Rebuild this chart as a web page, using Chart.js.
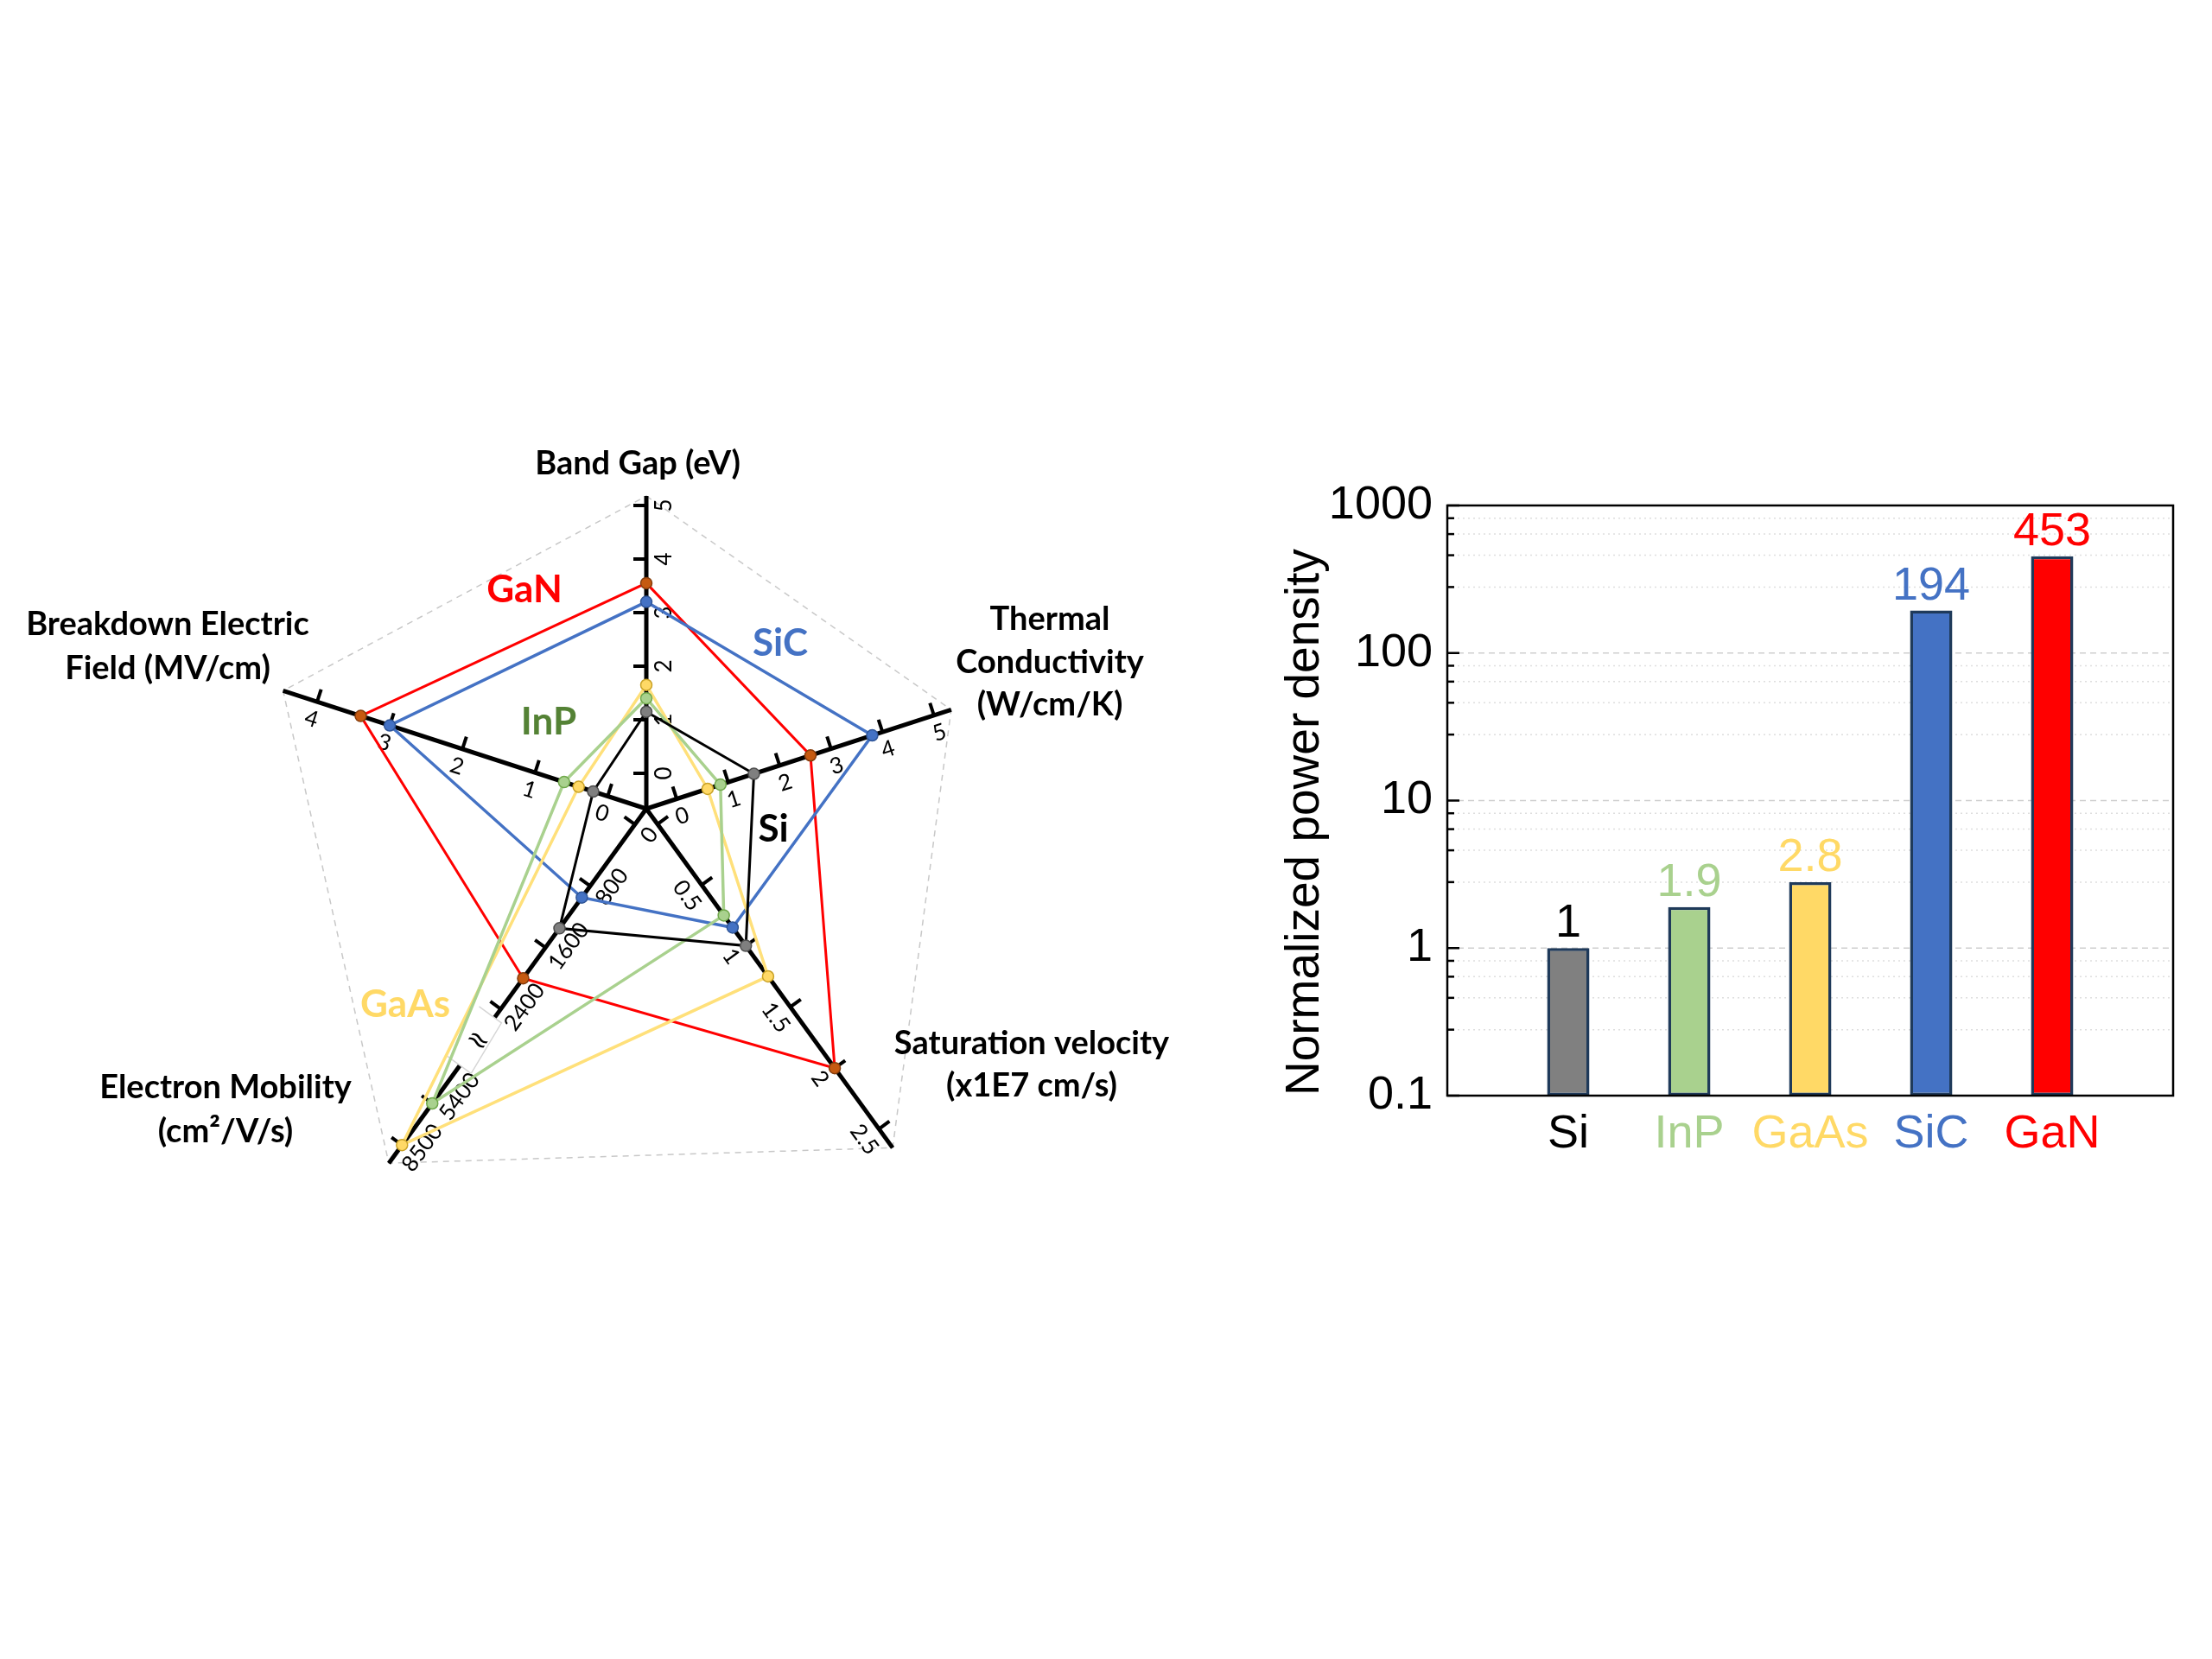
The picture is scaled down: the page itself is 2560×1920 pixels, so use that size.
<!DOCTYPE html>
<html>
<head>
<meta charset="utf-8">
<title>Si / InP / GaAs / SiC / GaN</title>
<script src="https://cdn.jsdelivr.net/npm/chart.js@4.4.1/dist/chart.umd.min.js"></script>
<style>
  html, body { margin: 0; padding: 0; background: #fff; }
  body { width: 2560px; height: 1920px; position: relative; overflow: hidden; }
  #radarBox { position: absolute; left: 0px; top: 186px; width: 1496px; height: 1500px; }
  #barBox { position: absolute; left: 1450px; top: 520px; width: 1090px; height: 860px; }
</style>
</head>
<body>
<div id="radarBox"><canvas id="radar"></canvas></div>
<div id="barBox"><canvas id="bars"></canvas></div>
<script>
'use strict';

// materials, same order in both charts
const materials = ['Si', 'InP', 'GaAs', 'SiC', 'GaN'];

// radar axes, clockwise from the top
const axisNames = [
  ['Band Gap (eV)'],
  ['Thermal', 'Conductivity', '(W/cm/K)'],
  ['Saturation velocity', '(x1E7 cm/s)'],
  ['Electron Mobility', '(cm²/V/s)'],
  ['Breakdown Electric', 'Field (MV/cm)']
];
const bandGapTicks = [0, 1, 2, 3, 4, 5];
const thermalTicks = [0, 1, 2, 3, 4, 5];
const satVelocityTicks = [0, 0.5, 1, 1.5, 2, 2.5];
const mobilityTicks = [0, 800, 1600, 2400, 5400, 8500];
const breakdownTicks = [0, 1, 2, 3, 4];

// band gap, thermal cond., sat. velocity, mobility, breakdown field
const siValues = [1.15, 1.5, 1.0, 1350, 0.2];
const inpValues = [1.4, 0.85, 0.75, 5400, 0.6];
const gaasValues = [1.65, 0.6, 1.25, 8500, 0.4];
const sicValues = [3.2, 3.8, 0.85, 950, 3.0];
const ganValues = [3.55, 2.6, 2.0, 2000, 3.4];

// bar chart
const powerDensity = [1, 1.9, 2.8, 194, 453];
const powerLabels = ['1', '1.9', '2.8', '194', '453'];
const powerTicks = [0.1, 1, 10, 100, 1000];


// ---------- radar ----------
// every axis has its own range, so each one gets its own mapping onto the
// radial scale (r goes 0..550). mobility axis is broken between 2400 and 5400
const axisLayout = [
  { ticks: bandGapTicks, at: [41, 103, 165, 227, 289, 351], end: 362 },
  { ticks: thermalTicks, at: [37, 99.6, 162.2, 224.8, 287.4, 350], end: 371 },
  { ticks: satVelocityTicks, at: [22, 109, 196, 283.5, 371, 458], end: 485, noZero: true },
  { ticks: mobilityTicks, at: [22.5, 110.5, 198.5, 286.5, 421.5, 481], end: 507, gap: [299, 367],
    shift: [0, -14, -17, -18, -25, -11] },
  { ticks: breakdownTicks, at: [47, 135.4, 223.8, 312.2, 400.6], end: 442 }
];

function toR (axis, v) {
  const t = axis.ticks, a = axis.at;
  let k = 0;
  while (k < t.length - 2 && v > t[k + 1]) k++;
  return a[k] + (v - t[k]) * (a[k + 1] - a[k]) / (t[k + 1] - t[k]);
}

const radarSeries = [siValues, inpValues, gaasValues, sicValues, ganValues];
const lineColors = ['#000000', '#A9D18E', '#FFE07A', '#4472C4', '#FF0000'];
const pointFills = ['#7F7F7F', '#A9D18E', '#FFD966', '#4472C4', '#C55A11'];
const pointEdges = ['#4D4D4D', '#6FA84A', '#C9A227', '#2F5597', '#843C0C'];
const lineWidths = [3, 3.5, 3.5, 3.5, 3];

const titleFont = 'bold 38px Lato, "Open Sans", sans-serif';
const tickFont = '26px Lato, "Open Sans", sans-serif';

// series names written inside the radar (offsets from the centre)
const seriesTags = [
  { text: 'Si', color: '#000000', dx: 147, dy: 24 },
  { text: 'InP', color: '#548235', dx: -113, dy: -100 },
  { text: 'GaAs', color: '#FFD966', dx: -279, dy: 227 },
  { text: 'SiC', color: '#4472C4', dx: 155, dy: -191 },
  { text: 'GaN', color: '#FF0000', dx: -141, dy: -253 }
];
// axis titles (offsets from the centre, one y per line)
const titlePlaces = [
  { dx: -10, dy: [-399] },
  { dx: 467, dy: [-219, -169, -120] },
  { dx: 446, dy: [272, 321] },
  { dx: -487, dy: [323, 374] },
  { dx: -554, dy: [-213, -162] }
];

function rotatedText (ctx, text, x, y, angle) {
  ctx.save();
  ctx.translate(x, y);
  ctx.rotate(angle);
  ctx.fillText(text, 0, 0);
  ctx.restore();
}

const radarAxes = {
  id: 'radarAxes',
  beforeDatasetsDraw (chart) {
    const r = chart.scales.r;
    const ctx = chart.ctx;
    const cx = r.xCenter, cy = r.yCenter;
    ctx.save();

    // dashed outline through the axis ends
    ctx.beginPath();
    axisLayout.forEach((ax, i) => {
      const p = r.getPointPositionForValue(i, ax.end);
      if (i === 0) ctx.moveTo(p.x, p.y); else ctx.lineTo(p.x, p.y);
    });
    ctx.closePath();
    ctx.setLineDash([7, 6]);
    ctx.strokeStyle = '#c8c8c8';
    ctx.lineWidth = 1.5;
    ctx.stroke();
    ctx.setLineDash([]);

    axisLayout.forEach((ax, i) => {
      const pos = d => r.getPointPositionForValue(i, d);
      const e = pos(ax.end);
      const len = Math.hypot(e.x - cx, e.y - cy);
      const u = { x: (e.x - cx) / len, y: (e.y - cy) / len };
      const flip = u.x < -0.01;
      const d = flip ? { x: -u.x, y: -u.y } : u; // reading direction of the labels
      const n = { x: -d.y, y: d.x }; // label side
      const angle = Math.atan2(d.y, d.x);

      // axis line
      ctx.strokeStyle = '#000';
      ctx.lineWidth = 5;
      ctx.lineCap = 'butt';
      const parts = ax.gap ? [[0, ax.gap[0]], [ax.gap[1], ax.end]] : [[0, ax.end]];
      parts.forEach(([a, b]) => {
        const p = pos(a), q = pos(b);
        ctx.beginPath();
        ctx.moveTo(p.x, p.y);
        ctx.lineTo(q.x, q.y);
        ctx.stroke();
      });

      // ticks + labels
      ctx.font = tickFont;
      ctx.fillStyle = '#000';
      ctx.textAlign = 'center';
      ctx.textBaseline = 'middle';
      ax.ticks.forEach((t, k) => {
        const p = pos(ax.at[k]);
        ctx.lineWidth = 4;
        ctx.beginPath();
        ctx.moveTo(p.x, p.y);
        ctx.lineTo(p.x - n.x * 15, p.y - n.y * 15);
        ctx.stroke();
        if (t === 0 && ax.noZero) return;
        const s = ax.shift ? ax.shift[k] : 0;
        rotatedText(ctx, String(t), p.x + n.x * 21 + u.x * s, p.y + n.y * 21 + u.y * s, angle);
      });

      // break marks on the mobility axis
      if (ax.gap) {
        const g0 = pos(ax.gap[0]), g1 = pos(ax.gap[1]);
        ctx.strokeStyle = '#d6d6d6';
        ctx.lineWidth = 1.5;
        ctx.beginPath();
        ctx.moveTo(g0.x - n.x * 22, g0.y - n.y * 22);
        ctx.lineTo(g0.x + n.x * 10, g0.y + n.y * 10);
        ctx.lineTo(g1.x + n.x * 16, g1.y + n.y * 16);
        ctx.moveTo(g1.x - n.x * 18, g1.y - n.y * 18);
        ctx.lineTo(g1.x + n.x * 16, g1.y + n.y * 16);
        ctx.stroke();
        const m = pos((ax.gap[0] + ax.gap[1]) / 2);
        ctx.font = '32px "DejaVu Sans", sans-serif';
        rotatedText(ctx, '≈', m.x, m.y, angle + Math.PI / 2);
      }
    });
    ctx.restore();
  },
  afterDraw (chart) {
    const r = chart.scales.r;
    const ctx = chart.ctx;
    const cx = r.xCenter, cy = r.yCenter;
    ctx.save();
    ctx.textAlign = 'center';
    ctx.textBaseline = 'middle';
    ctx.font = titleFont;
    ctx.fillStyle = '#000';
    axisNames.forEach((lines, i) => {
      const pl = titlePlaces[i];
      lines.forEach((line, j) => ctx.fillText(line, cx + pl.dx, cy + pl.dy[j]));
    });
    ctx.font = 'bold 44px Lato, "Open Sans", sans-serif';
    seriesTags.forEach(tag => {
      ctx.fillStyle = tag.color;
      ctx.fillText(tag.text, cx + tag.dx, cy + tag.dy);
    });
    ctx.restore();
  }
};

new Chart(document.getElementById('radar'), {
  type: 'radar',
  data: {
    labels: axisNames.map(a => a.join(' ')),
    datasets: radarSeries.map((vals, s) => ({
      label: materials[s],
      data: vals.map((v, i) => toR(axisLayout[i], v)),
      borderColor: lineColors[s],
      borderWidth: lineWidths[s],
      backgroundColor: 'transparent',
      fill: false,
      pointRadius: 6.5,
      pointBorderWidth: 1.5,
      pointBackgroundColor: pointFills[s],
      pointBorderColor: pointEdges[s]
    }))
  },
  options: {
    responsive: true,
    maintainAspectRatio: false,
    animation: false,
    // keep the radial area 1100 x 1100 so that r units are pixels
    layout: { padding: { left: 198, right: 198, top: 200, bottom: 200 } },
    elements: { line: { tension: 0 } },
    plugins: { legend: { display: false }, tooltip: { enabled: false } },
    scales: {
      r: {
        min: 0,
        max: 550,
        ticks: { display: false },
        grid: { display: false },
        angleLines: { display: false },
        pointLabels: { display: false }
      }
    }
  },
  plugins: [radarAxes]
});


// ---------- bars ----------
const barFills = ['#808080', '#A9D18E', '#FFD966', '#4472C4', '#FF0000'];
const barTextColors = ['#000000', '#A9D18E', '#FFD966', '#4472C4', '#FF0000'];
const arial = '"Liberation Sans", Arial, sans-serif';

// Origin style log minors: 4 evenly spaced lines per decade
function minorTicks () {
  const out = [];
  for (let i = 0; i < powerTicks.length - 1; i++) {
    for (let k = 1; k <= 4; k++) out.push(+(powerTicks[i] * (1 + 1.8 * k)).toPrecision(3));
  }
  return out;
}

const barFrame = {
  id: 'barFrame',
  beforeDatasetsDraw (chart) {
    const { ctx, chartArea: a } = chart;
    const y = chart.scales.y;
    ctx.save();
    ctx.lineWidth = 1.5;
    y.ticks.forEach(t => {
      const py = y.getPixelForValue(t.value);
      const major = powerTicks.includes(t.value);
      ctx.strokeStyle = major ? '#cfcfcf' : '#dedede';
      ctx.setLineDash(major ? [7, 5] : [2, 4]);
      ctx.beginPath();
      ctx.moveTo(a.left, py);
      ctx.lineTo(a.right, py);
      ctx.stroke();
    });
    ctx.restore();
  },
  afterDatasetsDraw (chart) {
    const { ctx, chartArea: a } = chart;
    const y = chart.scales.y;
    ctx.save();
    // inward ticks
    ctx.strokeStyle = '#000';
    ctx.lineWidth = 2.5;
    y.ticks.forEach(t => {
      const py = y.getPixelForValue(t.value);
      const len = powerTicks.includes(t.value) ? 14 : 8;
      ctx.beginPath();
      ctx.moveTo(a.left, py);
      ctx.lineTo(a.left + len, py);
      ctx.stroke();
    });
    ctx.strokeRect(a.left, a.top, a.right - a.left, a.bottom - a.top);

    // value labels above bars
    ctx.font = '54px ' + arial;
    ctx.textAlign = 'center';
    ctx.textBaseline = 'alphabetic';
    chart.getDatasetMeta(0).data.forEach((bar, i) => {
      const k = i - 1;
      if (k < 0 || k >= materials.length) return;
      ctx.fillStyle = barTextColors[k];
      ctx.fillText(powerLabels[k], bar.x, bar.y - 13);
    });
    ctx.restore();
  }
};

new Chart(document.getElementById('bars'), {
  type: 'bar',
  data: {
    labels: ['', ...materials, ''],
    datasets: [{
      data: [null, ...powerDensity, null],
      backgroundColor: [null, ...barFills, null],
      borderColor: '#1F3A5A',
      borderWidth: 3.5,
      borderSkipped: false,
      categoryPercentage: 1,
      barPercentage: 0.35
    }]
  },
  options: {
    responsive: true,
    maintainAspectRatio: false,
    animation: false,
    layout: { padding: { top: 65, right: 25, left: 0, bottom: 0 } },
    plugins: { legend: { display: false }, tooltip: { enabled: false } },
    scales: {
      x: {
        type: 'category',
        offset: false,
        grid: { display: false, drawTicks: false },
        border: { display: false },
        ticks: {
          padding: 13,
          autoSkip: false,
          maxRotation: 0,
          minRotation: 0,
          font: { family: arial, size: 54 },
          color: ctx => barTextColors[ctx.index - 1] || '#000'
        },
        afterFit: s => { s.height = 112; s.paddingLeft = 0; s.paddingRight = 0; }
      },
      y: {
        type: 'logarithmic',
        min: 0.1,
        max: 1000,
        grid: { display: false, drawTicks: false },
        border: { display: false },
        afterBuildTicks: s => {
          s.ticks = powerTicks.concat(minorTicks()).sort((p, q) => p - q).map(v => ({ value: v }));
        },
        ticks: {
          padding: 17,
          autoSkip: false,
          font: { family: arial, size: 54 },
          color: '#000',
          callback: v => powerTicks.includes(v) ? String(v) : ''
        },
        title: {
          display: true,
          text: 'Normalized power density',
          align: 'start',
          color: '#000',
          font: { family: arial, size: 55 },
          padding: { top: 28 }
        },
        afterFit: s => { s.width = 225; }
      }
    }
  },
  plugins: [barFrame]
});
</script>
</body>
</html>
